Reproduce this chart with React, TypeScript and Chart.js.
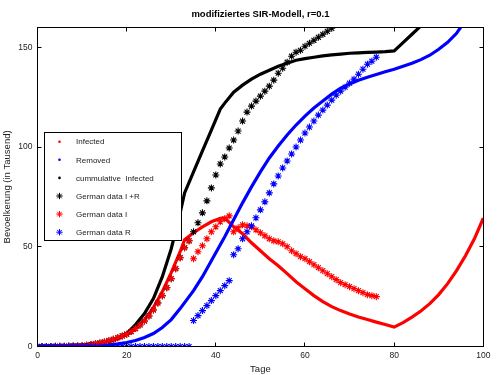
import React, { useEffect, useRef } from 'react';
import { Chart, registerables } from 'chart.js';

Chart.register(...registerables);

const chartTitle = 'modifiziertes SIR-Modell, r=0.1';
const xTitle = 'Tage';
const yTitle = 'Bevoelkerung (in Tausend)';
const xTicks = [0, 20, 40, 60, 80, 100];
const yTicks = [0, 50, 100, 150];

const modelDays = [0, 5, 10, 14, 16, 18, 20, 22, 24, 26, 28, 30, 32, 33, 35, 37, 39, 41, 42, 44, 46, 48, 50, 52, 54, 56, 58, 60, 62, 64, 66, 68, 70, 72, 74, 76, 78, 80, 82, 84, 86, 88, 90, 92, 94, 96, 98, 100];
const modelInfected = [0.1, 0.3, 0.7, 1.6, 2.5, 3.9, 5.8, 8.8, 13.3, 19.5, 27.5, 37, 47.5, 53.5, 57, 60, 62.5, 64.3, 64.5, 60, 56.5, 52, 48, 44, 40.5, 36.5, 32.5, 29, 25.5, 22.5, 20, 18, 16.3, 14.8, 13.5, 12.2, 11, 9.7, 12, 14.7, 17.8, 21.5, 26, 31.5, 38, 45.5, 54, 64.3];
const modelRemoved = [0, 0.05, 0.2, 0.5, 0.8, 1.3, 2, 3, 4.5, 6.5, 9.5, 13.5, 19, 22, 28, 35, 43, 51, 55, 63.5, 72, 80, 87.5, 94.5, 100.5, 106, 111, 115.5, 119.5, 123, 126.5, 129.5, 131.5, 133.5, 135, 136.3, 137.7, 139, 140.5, 142, 143.8, 146, 149, 152.5, 157, 163.5, 170, 177];
const modelCumulative = [0.1, 0.3, 0.8, 1.8, 2.8, 4.3, 6.5, 11, 16.5, 24, 35, 49, 67, 77, 87.5, 98, 108.5, 119, 122, 127.5, 131, 134, 136.5, 138.5, 140.5, 142, 143.5, 144.3, 145, 145.7, 146.2, 146.6, 147, 147.2, 147.4, 147.6, 147.8, 148.2, 152.3, 156.5, 160.7, 165, 169.5, 174, 179, 184, 189, 194];

const dataDays = [0, 1, 2, 3, 4, 5, 6, 7, 8, 9, 10, 11, 12, 13, 14, 15, 16, 17, 18, 19, 20, 21, 22, 23, 24, 25, 26, 27, 28, 29, 30, 31, 32, 33, 34, 35, 36, 37, 38, 39, 40, 41, 42, 43, 44, 45, 46, 47, 48, 49, 50, 51, 52, 53, 54, 55, 56, 57, 58, 59, 60, 61, 62, 63, 64, 65, 66, 67, 68, 69, 70, 71, 72, 73, 74, 75, 76];
const germanIR = [0, 0, 0, 0, 0.1, 0.1, 0.1, 0.2, 0.2, 0.3, 0.4, 0.6, 1, 1.4, 1.8, 2.3, 2.9, 3.6, 4.4, 5.3, 6.2, 7.5, 9, 10.8, 12.8, 15.3, 18.3, 21.8, 25.5, 29.5, 34, 39, 44.5, 49.5, 53, 57.5, 62, 67, 73, 79.5, 86, 91.5, 95, 99.5, 103.5, 108, 113, 117.5, 120.5, 123, 125.5, 128, 130.5, 133.5, 137, 139.5, 142.5, 145.5, 147.5, 148.5, 150.5, 152, 153.5, 155, 156.5, 158, 159.5];
const germanI = [0, 0, 0, 0, 0.1, 0.1, 0.1, 0.2, 0.2, 0.3, 0.4, 0.6, 1, 1.4, 1.8, 2.3, 2.9, 3.6, 4.4, 5.3, 6.2, 7.5, 9, 10.8, 12.8, 15.3, 18.3, 21.8, 25.5, 29.5, 34, 39, 44.5, 49.5, 53, 44, 47.5, 50.5, 54, 57.5, 60, 62.5, 64, 65.5, 57.5, 59.5, 61, 60.5, 60, 58.5, 57, 55.5, 54, 53, 52.5, 51.5, 50, 48, 46.5, 45, 44, 42.5, 41, 39.5, 38, 36.5, 35, 33.5, 32, 31, 30, 29, 28, 27, 26, 25.5, 25];
const germanR = [0, 0, 0, 0, 0, 0, 0, 0, 0, 0, 0, 0, 0, 0, 0, 0, 0, 0, 0, 0, 0, 0, 0, 0, 0, 0, 0, 0, 0, 0, 0, 0, 0, 0, 0, 13, 15.5, 18, 20.5, 23, 25.5, 28, 30.5, 33, 46, 49, 54, 57.5, 60.5, 64.5, 68.5, 72.5, 77, 81.5, 85.5, 89.5, 93, 96.5, 100, 103.5, 107, 110, 113, 116, 118.5, 121, 123.5, 126, 128, 130, 132, 134, 136.5, 139, 141.5, 143, 145];

const FONT = '"Liberation Sans", Arial, Helvetica, sans-serif';

const toXY = (xs: number[], ys: number[]) => ys.map((y, i) => ({ x: xs[i], y }));

function drawStar(ctx: CanvasRenderingContext2D, x: number, y: number, r: number) {
  ctx.beginPath();
  for (let k = 0; k < 4; k++) {
    const a = (k * Math.PI) / 4;
    ctx.moveTo(x - r * Math.cos(a), y - r * Math.sin(a));
    ctx.lineTo(x + r * Math.cos(a), y + r * Math.sin(a));
  }
  ctx.stroke();
}

const framePlugin = {
  id: 'frame',
  afterDatasetsDraw(chart: any) {
    const { ctx, chartArea: a, scales } = chart;
    ctx.save();
    ctx.strokeStyle = '#000';
    ctx.lineWidth = 1;
    const L = Math.round(a.left - 0.5) + 0.5;
    const R = Math.round(a.right - 0.5) + 0.5;
    const T = Math.round(a.top - 0.5) + 0.5;
    const B = Math.round(a.bottom - 0.5) + 0.5;
    ctx.strokeRect(L, T, R - L, B - T);
    const len = 4;
    ctx.beginPath();
    xTicks.forEach((v) => {
      const px = Math.round(scales.x.getPixelForValue(v) - 0.5) + 0.5;
      ctx.moveTo(px, B); ctx.lineTo(px, B - len);
      ctx.moveTo(px, T); ctx.lineTo(px, T + len);
    });
    yTicks.forEach((v) => {
      const py = Math.round(scales.y.getPixelForValue(v) - 0.5) + 0.5;
      ctx.moveTo(L, py); ctx.lineTo(L + len, py);
      ctx.moveTo(R, py); ctx.lineTo(R - len, py);
    });
    ctx.stroke();
    ctx.restore();
  },
};

const legendPlugin = {
  id: 'boxLegend',
  afterDraw(chart: any) {
    const { ctx } = chart;
    const bx = 44.5, by = 132.5, bw = 137, bh = 108;
    ctx.save();
    ctx.fillStyle = '#fff';
    ctx.fillRect(bx, by, bw, bh);
    ctx.strokeStyle = '#000';
    ctx.lineWidth = 1;
    ctx.strokeRect(bx, by, bw, bh);
    ctx.font = `8px ${FONT}`;
    ctx.textBaseline = 'middle';
    ctx.textAlign = 'left';
    chart.data.datasets.forEach((ds: any, i: number) => {
      const cy = 141.7 + i * 18.1;
      const mx = 59.5;
      const color = ds.borderColor;
      if (ds.pointStyle === 'star') {
        ctx.strokeStyle = color;
        ctx.lineWidth = 1;
        drawStar(ctx, mx, cy, 3.2);
      } else {
        ctx.fillStyle = color;
        ctx.beginPath();
        ctx.arc(mx, cy, 1.3, 0, Math.PI * 2);
        ctx.fill();
      }
      ctx.fillStyle = '#222';
      ctx.fillText(ds.label, 76, cy + 0.5);
    });
    ctx.restore();
  },
};

export default function App() {
  const ref = useRef<HTMLCanvasElement>(null);
  useEffect(() => {
    if (!ref.current) return;
    const lineDs = (label: string, ys: number[], color: string, order: number) => ({
      label,
      data: toXY(modelDays, ys),
      showLine: true,
      borderColor: color,
      backgroundColor: color,
      borderWidth: 3.2,
      pointRadius: 0,
      pointStyle: 'circle',
      tension: 0,
      order,
    });
    const starDs = (label: string, ys: number[], color: string, order: number) => ({
      label,
      data: toXY(dataDays, ys),
      showLine: false,
      borderColor: color,
      backgroundColor: color,
      pointStyle: 'star',
      pointRadius: 3.5,
      pointBorderWidth: 1.1,
      pointBorderColor: color,
      order,
    });
    const chart = new Chart(ref.current, {
      type: 'scatter',
      data: {
        datasets: [
          lineDs('Infected', modelInfected, '#ff0000', 6),
          lineDs('Removed', modelRemoved, '#0000ff', 5),
          lineDs('cummulative  Infected', modelCumulative, '#000000', 4),
          starDs('German data I +R', germanIR, '#000000', 3),
          starDs('German data I', germanI, '#ff0000', 2),
          starDs('German data R', germanR, '#0000ff', 1),
        ] as any,
      },
      options: {
        responsive: false,
        animation: false,
        devicePixelRatio: 1,
        events: [],
        layout: { padding: { left: 0, right: 16.7, top: 0, bottom: 0 } },
        plugins: {
          legend: { display: false },
          tooltip: { enabled: false },
          title: {
            display: true,
            text: chartTitle,
            fullSize: false,
            color: '#000',
            font: { family: FONT, size: 9.5, weight: 'bold', lineHeight: 1.2 },
            padding: { top: 9, bottom: 6.9 },
          },
        },
        scales: {
          x: {
            type: 'linear',
            min: 0,
            max: 100,
            grid: { display: false, drawTicks: false },
            border: { display: false },
            afterBuildTicks: (s: any) => { s.ticks = xTicks.map((v) => ({ value: v })); },
            afterFit: (s: any) => { s.height = 28.5; },
            ticks: { padding: 4, color: '#222', font: { family: FONT, size: 8.5 }, maxRotation: 0 },
            title: { display: true, text: xTitle, color: '#222', font: { family: FONT, size: 9.5, lineHeight: 1.2 }, padding: { top: 0, bottom: 0 } },
          },
          y: {
            type: 'linear',
            min: 0,
            max: 160,
            grid: { display: false, drawTicks: false },
            border: { display: false },
            afterBuildTicks: (s: any) => { s.ticks = yTicks.map((v) => ({ value: v })); },
            afterFit: (s: any) => { s.width = 37.5; },
            ticks: { padding: 5, color: '#222', font: { family: FONT, size: 8.5 } },
            title: { display: true, text: yTitle, color: '#222', font: { family: FONT, size: 9.5, lineHeight: 1.2 }, padding: { top: 2, bottom: 0 } },
          },
        },
      } as any,
      plugins: [framePlugin, legendPlugin],
    });
    return () => chart.destroy();
  }, []);
  return (
    <div style={{ position: 'fixed', left: 0, top: 0, width: 500, height: 375, background: '#fff' }}>
      <canvas ref={ref} width={500} height={375} style={{ display: 'block' }} />
    </div>
  );
}
